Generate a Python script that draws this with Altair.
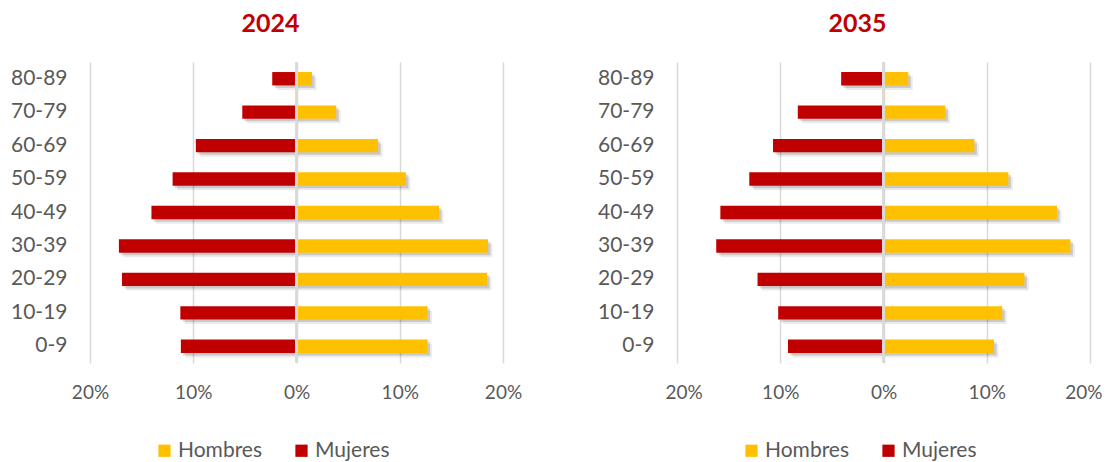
import altair as alt
import pandas as pd

ages = ["0-9", "10-19", "20-29", "30-39", "40-49", "50-59", "60-69", "70-79", "80-89"]
hombres_2024 = [12.7, 12.7, 18.45, 18.55, 13.8, 10.6, 7.9, 3.85, 1.5]
mujeres_2024 = [11.2, 11.25, 16.9, 17.2, 14.05, 12.0, 9.75, 5.25, 2.35]
hombres_2035 = [10.7, 11.5, 13.65, 18.1, 16.8, 12.1, 8.8, 6.0, 2.4]
mujeres_2035 = [9.25, 10.2, 12.2, 16.2, 15.8, 13.0, 10.7, 8.3, 4.1]
sexes = ["Hombres", "Mujeres"]
colors = ["#FFC000", "#C00000"]
ticks = [-20, -10, 0, 10, 20]

FONT = "Lato"
GREY = "#595959"


def make_df(h, m):
    rows = []
    for a, hv, mv in zip(ages, h, m):
        rows.append({"edad": a, "sexo": "Hombres", "valor": hv})
        rows.append({"edad": a, "sexo": "Mujeres", "valor": -mv})
    return pd.DataFrame(rows)


def panel(df, title, flush):
    y = alt.Y(
        "edad:N",
        sort=ages[::-1],
        scale=alt.Scale(paddingInner=0.6, paddingOuter=0.3),
        axis=alt.Axis(
            title=None, ticks=False, domain=False, grid=False,
            labelFontSize=21, labelColor=GREY, labelFont=FONT,
            labelPadding=23, minExtent=82, maxExtent=82,
        ),
    )
    xaxis = dict(
        title=None, values=ticks, labelExpr="abs(datum.value) + '%'",
        ticks=False, domain=False, grid=True, gridColor="#D9D9D9",
        gridWidth=1.5, labelFontSize=19, labelColor=GREY,
        labelFont=FONT, labelPadding=20, labelOverlap=False,
    )
    if flush:
        xaxis.update(labelFlush=True, labelFlushOffset=12)
    else:
        xaxis.update(labelFlush=False, labelAlign="center")
    x = alt.X(
        "valor:Q",
        scale=alt.Scale(domain=[-20, 20], nice=False),
        axis=alt.Axis(**xaxis),
    )
    base = alt.Chart(df).encode(x=x, y=y)
    shadow1 = base.mark_bar(color="#000000", opacity=0.08,
                            xOffset=4.5, x2Offset=4.5, yOffset=4.5, y2Offset=4.5)
    shadow2 = base.mark_bar(color="#000000", opacity=0.14,
                            xOffset=2.5, x2Offset=2.5, yOffset=2.5, y2Offset=2.5)
    bars = base.mark_bar().encode(
        color=alt.Color(
            "sexo:N",
            scale=alt.Scale(domain=sexes, range=colors),
            legend=alt.Legend(
                title=None, orient="none", legendX=64, legendY=378,
                direction="horizontal", symbolType="square", symbolSize=150,
                symbolStrokeWidth=0, labelFontSize=21, labelColor=GREY,
                labelFont=FONT, columnPadding=28, padding=0, labelOffset=3,
            ),
        )
    )
    zero = alt.Chart(df).mark_rule(color="#D9D9D9", strokeWidth=1.5).encode(
        x=alt.datum(0)
    )
    return alt.layer(shadow1, shadow2, bars, zero).properties(
        width=413,
        height=301,
        title=alt.TitleParams(
            text=title, color="#C00000", fontSize=25, fontWeight="bold",
            font=FONT, anchor="middle", frame="group", dx=-26, offset=24,
        ),
    )


left = panel(make_df(hombres_2024, mujeres_2024), "2024", False)
right = panel(make_df(hombres_2035, mujeres_2035), "2035", True)

chart = (
    alt.hconcat(left, right, spacing=174, bounds="flush")
    .resolve_scale(color="independent", x="independent", y="independent")
    .properties(padding={"left": 0, "top": 4, "right": 0, "bottom": 0})
    .configure_view(stroke=None)
)

chart.save("out.html", embed_options={"renderer": "svg", "actions": False})
